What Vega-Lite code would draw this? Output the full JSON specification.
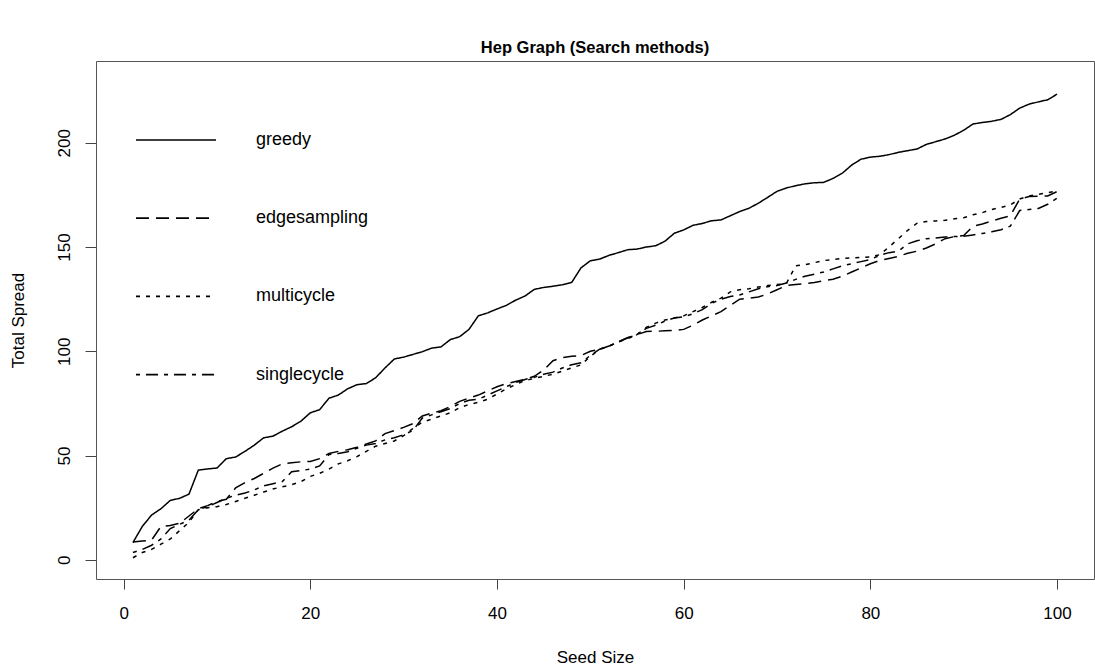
{
  "$schema": "https://vega.github.io/schema/vega-lite/v6.json",
  "width": 998,
  "height": 518,
  "autosize": {"type": "none"},
  "padding": {"left": 96, "top": 61, "right": 1, "bottom": 90},
  "title": {"text": "Hep Graph (Search methods)", "font": "Liberation Sans", "fontSize": 16.5, "fontWeight": "bold", "color": "#000", "anchor": "middle", "baseline": "middle", "offset": -3},
  "data": {"values": [
    {"x":1,"greedy":8.3,"edgesampling":8.5,"multicycle":1.0,"singlecycle":3.5},
    {"x":2,"greedy":16,"edgesampling":9.0,"multicycle":3.5,"singlecycle":5.0},
    {"x":3,"greedy":21.5,"edgesampling":9.5,"multicycle":5.0,"singlecycle":7.0},
    {"x":4,"greedy":24.5,"edgesampling":16.0,"multicycle":7.5,"singlecycle":10.0},
    {"x":5,"greedy":28.5,"edgesampling":16.5,"multicycle":10.0,"singlecycle":15.0},
    {"x":6,"greedy":29.5,"edgesampling":17.5,"multicycle":14.0,"singlecycle":17.0},
    {"x":7,"greedy":31.5,"edgesampling":21.0,"multicycle":18.0,"singlecycle":19.0},
    {"x":8,"greedy":43,"edgesampling":24.5,"multicycle":24.0,"singlecycle":24.0},
    {"x":9,"greedy":43.6,"edgesampling":26.0,"multicycle":25.0,"singlecycle":25.5},
    {"x":10,"greedy":44,"edgesampling":28.0,"multicycle":25.5,"singlecycle":27.5},
    {"x":11,"greedy":48.5,"edgesampling":29.0,"multicycle":26.5,"singlecycle":29.5},
    {"x":12,"greedy":49.3,"edgesampling":34.5,"multicycle":28.0,"singlecycle":31.0},
    {"x":13,"greedy":52,"edgesampling":37.0,"multicycle":29.5,"singlecycle":32.0},
    {"x":14,"greedy":55,"edgesampling":39.0,"multicycle":31.0,"singlecycle":33.5},
    {"x":15,"greedy":58.5,"edgesampling":41.5,"multicycle":32.5,"singlecycle":35.5},
    {"x":16,"greedy":59.3,"edgesampling":44.0,"multicycle":34.0,"singlecycle":36.5},
    {"x":17,"greedy":61.7,"edgesampling":46.0,"multicycle":35.0,"singlecycle":37.5},
    {"x":18,"greedy":63.8,"edgesampling":46.5,"multicycle":36.0,"singlecycle":42.2},
    {"x":19,"greedy":66.5,"edgesampling":47.0,"multicycle":37.5,"singlecycle":42.8},
    {"x":20,"greedy":70.5,"edgesampling":47.2,"multicycle":40.0,"singlecycle":43.5},
    {"x":21,"greedy":72,"edgesampling":48.5,"multicycle":41.5,"singlecycle":45.0},
    {"x":22,"greedy":77.5,"edgesampling":51.0,"multicycle":43.5,"singlecycle":50.5},
    {"x":23,"greedy":79,"edgesampling":52.0,"multicycle":46.0,"singlecycle":51.0},
    {"x":24,"greedy":82,"edgesampling":52.8,"multicycle":47.5,"singlecycle":51.8},
    {"x":25,"greedy":84,"edgesampling":54.0,"multicycle":49.5,"singlecycle":53.5},
    {"x":26,"greedy":84.5,"edgesampling":55.5,"multicycle":52.0,"singlecycle":55.0},
    {"x":27,"greedy":87.3,"edgesampling":57.0,"multicycle":54.5,"singlecycle":55.8},
    {"x":28,"greedy":92,"edgesampling":60.5,"multicycle":55.8,"singlecycle":57.5},
    {"x":29,"greedy":96.3,"edgesampling":62.0,"multicycle":57.0,"singlecycle":58.5},
    {"x":30,"greedy":97.2,"edgesampling":63.5,"multicycle":59.5,"singlecycle":60.0},
    {"x":31,"greedy":98.5,"edgesampling":65.3,"multicycle":63.0,"singlecycle":62.0},
    {"x":32,"greedy":99.8,"edgesampling":69.0,"multicycle":66.0,"singlecycle":68.0},
    {"x":33,"greedy":101.5,"edgesampling":70.3,"multicycle":67.5,"singlecycle":69.5},
    {"x":34,"greedy":102.1,"edgesampling":71.5,"multicycle":69.0,"singlecycle":71.0},
    {"x":35,"greedy":105.6,"edgesampling":73.5,"multicycle":70.5,"singlecycle":72.5},
    {"x":36,"greedy":107,"edgesampling":76,"multicycle":73,"singlecycle":75},
    {"x":37,"greedy":110.5,"edgesampling":77.5,"multicycle":74.5,"singlecycle":76.5},
    {"x":38,"greedy":117,"edgesampling":79,"multicycle":75.5,"singlecycle":77},
    {"x":39,"greedy":118.4,"edgesampling":81,"multicycle":77,"singlecycle":79},
    {"x":40,"greedy":120.3,"edgesampling":83,"multicycle":79.5,"singlecycle":81},
    {"x":41,"greedy":122,"edgesampling":84.5,"multicycle":82,"singlecycle":83},
    {"x":42,"greedy":124.5,"edgesampling":85.5,"multicycle":84,"singlecycle":85},
    {"x":43,"greedy":126.5,"edgesampling":86.5,"multicycle":86,"singlecycle":86.5},
    {"x":44,"greedy":129.7,"edgesampling":88,"multicycle":87,"singlecycle":87.5},
    {"x":45,"greedy":130.6,"edgesampling":91,"multicycle":88,"singlecycle":89},
    {"x":46,"greedy":131.2,"edgesampling":95.5,"multicycle":89,"singlecycle":90},
    {"x":47,"greedy":131.9,"edgesampling":97,"multicycle":90.5,"singlecycle":92},
    {"x":48,"greedy":133,"edgesampling":97.6,"multicycle":92,"singlecycle":93.5},
    {"x":49,"greedy":140,"edgesampling":98,"multicycle":93.5,"singlecycle":94.5},
    {"x":50,"greedy":143.4,"edgesampling":100,"multicycle":97.5,"singlecycle":98},
    {"x":51,"greedy":144.2,"edgesampling":101,"multicycle":101,"singlecycle":101},
    {"x":52,"greedy":146,"edgesampling":102.5,"multicycle":102.5,"singlecycle":102.5},
    {"x":53,"greedy":147.3,"edgesampling":104.5,"multicycle":104.5,"singlecycle":104.5},
    {"x":54,"greedy":148.7,"edgesampling":106.5,"multicycle":106,"singlecycle":106.5},
    {"x":55,"greedy":149,"edgesampling":108,"multicycle":108,"singlecycle":108},
    {"x":56,"greedy":150,"edgesampling":109.5,"multicycle":111.5,"singlecycle":111},
    {"x":57,"greedy":150.6,"edgesampling":109.6,"multicycle":113.5,"singlecycle":112.5},
    {"x":58,"greedy":152.8,"edgesampling":109.8,"multicycle":115,"singlecycle":114.5},
    {"x":59,"greedy":156.6,"edgesampling":110,"multicycle":116,"singlecycle":116},
    {"x":60,"greedy":158.2,"edgesampling":110.5,"multicycle":117,"singlecycle":116.5},
    {"x":61,"greedy":160.4,"edgesampling":112.5,"multicycle":119,"singlecycle":118},
    {"x":62,"greedy":161.3,"edgesampling":115,"multicycle":121,"singlecycle":120},
    {"x":63,"greedy":162.6,"edgesampling":117,"multicycle":123.5,"singlecycle":123},
    {"x":64,"greedy":163,"edgesampling":119,"multicycle":125.5,"singlecycle":125},
    {"x":65,"greedy":165,"edgesampling":122,"multicycle":128.5,"singlecycle":126.3},
    {"x":66,"greedy":167,"edgesampling":125,"multicycle":129.5,"singlecycle":127},
    {"x":67,"greedy":168.6,"edgesampling":125.5,"multicycle":130,"singlecycle":128.5},
    {"x":68,"greedy":171,"edgesampling":126,"multicycle":130.8,"singlecycle":130},
    {"x":69,"greedy":173.8,"edgesampling":127.5,"multicycle":131.5,"singlecycle":131},
    {"x":70,"greedy":176.7,"edgesampling":129.5,"multicycle":132,"singlecycle":131.5},
    {"x":71,"greedy":178.3,"edgesampling":131.5,"multicycle":132.5,"singlecycle":132.7},
    {"x":72,"greedy":179.4,"edgesampling":132,"multicycle":141,"singlecycle":134.5},
    {"x":73,"greedy":180.3,"edgesampling":132.5,"multicycle":141.5,"singlecycle":136},
    {"x":74,"greedy":180.8,"edgesampling":133,"multicycle":142.5,"singlecycle":137},
    {"x":75,"greedy":181,"edgesampling":133.8,"multicycle":143.5,"singlecycle":138},
    {"x":76,"greedy":182.9,"edgesampling":134.5,"multicycle":144,"singlecycle":139.5},
    {"x":77,"greedy":185.4,"edgesampling":136,"multicycle":144.5,"singlecycle":141},
    {"x":78,"greedy":189.3,"edgesampling":138,"multicycle":144.8,"singlecycle":142},
    {"x":79,"greedy":192.1,"edgesampling":140,"multicycle":145,"singlecycle":143},
    {"x":80,"greedy":193.1,"edgesampling":142,"multicycle":145.3,"singlecycle":144},
    {"x":81,"greedy":193.5,"edgesampling":143.5,"multicycle":146.3,"singlecycle":146},
    {"x":82,"greedy":194.3,"edgesampling":144.5,"multicycle":150,"singlecycle":147.3},
    {"x":83,"greedy":195.4,"edgesampling":145.5,"multicycle":154,"singlecycle":148},
    {"x":84,"greedy":196.2,"edgesampling":147,"multicycle":158,"singlecycle":151.5},
    {"x":85,"greedy":197,"edgesampling":148,"multicycle":161.4,"singlecycle":153},
    {"x":86,"greedy":199.2,"edgesampling":149.5,"multicycle":162.2,"singlecycle":154},
    {"x":87,"greedy":200.5,"edgesampling":151.5,"multicycle":162.5,"singlecycle":154.3},
    {"x":88,"greedy":201.8,"edgesampling":154,"multicycle":162.8,"singlecycle":154.8},
    {"x":89,"greedy":203.6,"edgesampling":155,"multicycle":163.5,"singlecycle":155},
    {"x":90,"greedy":206,"edgesampling":155.5,"multicycle":164,"singlecycle":155.2},
    {"x":91,"greedy":209,"edgesampling":160,"multicycle":165.5,"singlecycle":155.8},
    {"x":92,"greedy":209.7,"edgesampling":161,"multicycle":166.5,"singlecycle":156.5},
    {"x":93,"greedy":210.3,"edgesampling":162.5,"multicycle":168,"singlecycle":157.3},
    {"x":94,"greedy":211.2,"edgesampling":163.8,"multicycle":169,"singlecycle":158.3},
    {"x":95,"greedy":213.5,"edgesampling":165,"multicycle":170.2,"singlecycle":160},
    {"x":96,"greedy":216.6,"edgesampling":173,"multicycle":173,"singlecycle":167.5},
    {"x":97,"greedy":218.5,"edgesampling":174.2,"multicycle":174.5,"singlecycle":168},
    {"x":98,"greedy":219.6,"edgesampling":174.3,"multicycle":175.3,"singlecycle":168.5},
    {"x":99,"greedy":220.6,"edgesampling":174.5,"multicycle":176,"singlecycle":170.5},
    {"x":100,"greedy":223.3,"edgesampling":176.6,"multicycle":177,"singlecycle":173.4}
  ]},
  "transform": [{"fold": ["greedy", "edgesampling", "multicycle", "singlecycle"], "as": ["method", "value"]}],
  "mark": {"type": "line", "color": "#000", "strokeWidth": 1.5},
  "encoding": {
    "x": {
      "field": "x", "type": "quantitative",
      "scale": {"domain": [-2.96, 103.96], "nice": false, "zero": false},
      "axis": {"values": [0, 20, 40, 60, 80, 100], "title": "Seed Size", "grid": false, "domain": false,
        "tickSize": 10, "tickColor": "#444", "labelFont": "Liberation Sans", "labelFontSize": 17, "labelColor": "#000",
        "labelBaseline": "middle", "labelPadding": 24, "titleFont": "Liberation Sans", "titleFontSize": 17,
        "titleFontWeight": "normal", "titleColor": "#000", "titleY": 78, "titleBaseline": "middle"}
    },
    "y": {
      "field": "value", "type": "quantitative",
      "scale": {"domain": [-9.2, 239.2], "nice": false, "zero": false},
      "axis": {"values": [0, 50, 100, 150, 200], "title": "Total Spread", "grid": false, "domain": false,
        "tickSize": 11, "tickColor": "#444", "labelFont": "Liberation Sans", "labelFontSize": 17, "labelColor": "#000",
        "labelAngle": -90, "labelAlign": "center", "labelBaseline": "middle", "labelPadding": 21,
        "titleFont": "Liberation Sans", "titleFontSize": 17, "titleFontWeight": "normal", "titleColor": "#000",
        "titleX": -78, "titleBaseline": "middle"}
    },
    "strokeDash": {
      "field": "method", "type": "nominal",
      "scale": {"domain": ["greedy", "edgesampling", "multicycle", "singlecycle"], "range": [[1, 0], [13, 7], [4, 6], [4, 6, 12, 6]]},
      "legend": {"title": null, "orient": "none", "legendX": 39, "legendY": 38, "symbolType": "stroke", "symbolSize": 6400,
        "symbolStrokeWidth": 1.7, "symbolStrokeColor": "#000", "labelFont": "Liberation Sans", "labelFontSize": 18,
        "labelColor": "#000", "labelOffset": 39, "rowPadding": 28.2, "padding": 0}
    }
  },
  "config": {"view": {"stroke": "#555", "strokeWidth": 1}, "font": "Liberation Sans"}
}
